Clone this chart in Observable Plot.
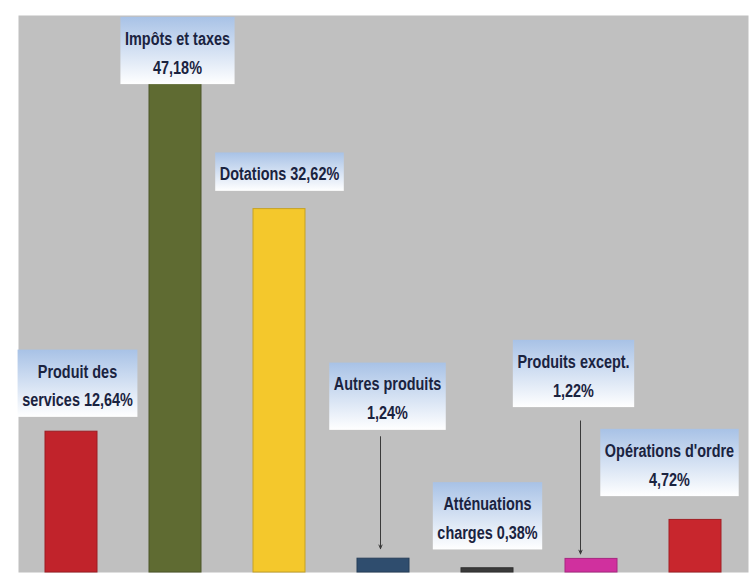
<!DOCTYPE html>
<html><head><meta charset="utf-8">
<script src="https://cdn.jsdelivr.net/npm/d3@7"></script>
<script src="https://cdn.jsdelivr.net/npm/@observablehq/plot@0.6"></script>
<style>body{margin:0;background:#fff}</style>
</head><body><div id="chart"></div>
<script>
// ---- data ----
const categories = ["Produit des services", "Impôts et taxes", "Dotations", "Autres produits", "Atténuations charges", "Produits except.", "Opérations d'ordre"];
const values = [12.64, 47.18, 32.62, 1.24, 0.38, 1.22, 4.72];
const labels = [
  "Produit des\nservices 12,64%",
  "Impôts et taxes\n47,18%",
  "Dotations 32,62%",
  "Autres produits\n1,24%",
  "Atténuations\ncharges 0,38%",
  "Produits except.\n1,22%",
  "Opérations d'ordre\n4,72%"
];
const palette = ["#c1232b", "#5f6b32", "#f4c82c", "#2f4d6e", "#3a3a3a", "#d0309e", "#c8262d"];

// ---- layout (pixel offsets of each label from its bar top) ----
const labelDx = [6, 2, 0, 4, 0, -18, -26];
const labelDy = [-49, 3, -38, -163, -53, -186, -58];
const arrowFor = [3, 5];
const arrowDx = {3: -3, 5: -11};
const arrowStart = {3: 122, 5: 138};
const arrowInset = {3: 10, 5: 5};

const W = 755, H = 576, mT = 15, mB = 4, mL = 18, mR = 7;
const yMax = 50;
const k = (H - mT - mB) / yMax;

const data = categories.map((c, i) => ({cat: c, value: values[i], label: labels[i], color: palette[i]}));

const font = "'Liberation Sans', Arial, sans-serif";
const squeeze = 0.76;

const marks = [
  Plot.frame({fill: "#c0c0c0", stroke: null}),
  Plot.barY(data, {x: "cat", y: "value", fill: "color", stroke: d => d3.color(d.color).darker(0.6).formatHex(), strokeWidth: 1}),
  ...arrowFor.map(i => Plot.arrow([data[i]], {
    x1: "cat", x2: "cat",
    y1: d => d.value + arrowStart[i] / k, y2: "value",
    dx: arrowDx[i], insetEnd: arrowInset[i],
    stroke: "#3a3a3a", strokeWidth: 1, headLength: 6, headAngle: 45
  })),
  ...data.map((d, i) => Plot.text([d], {
    x: "cat", y: "value", text: "label",
    dx: labelDx[i], dy: labelDy[i],
    lineAnchor: "middle", textAnchor: "middle", lineHeight: 1.52,
    fontSize: 19, fontWeight: "bold", fill: "#1a2340", fontFamily: font
  }))
];

const chart = Plot.plot({
  width: W, height: H,
  marginTop: mT, marginBottom: mB, marginLeft: mL, marginRight: mR,
  x: {domain: categories, paddingInner: 0.5, paddingOuter: 0.25, axis: null},
  y: {domain: [0, yMax], axis: null},
  style: {background: "#fff", fontFamily: font},
  marks
});
document.getElementById("chart").appendChild(chart);

// gradient boxes behind labels
const svg = d3.select(chart);
const defs = svg.insert("defs", ":first-child");
const grad = defs.append("linearGradient").attr("id", "lblGrad").attr("x1", 0).attr("y1", 0).attr("x2", 0).attr("y2", 1);
grad.append("stop").attr("offset", "0%").attr("stop-color", "#a8c2e6");
grad.append("stop").attr("offset", "100%").attr("stop-color", "#ffffff");

svg.selectAll('g[aria-label="text"] text').each(function () {
  const t = (this.getAttribute("transform") || "") + ` scale(${squeeze},1)`;
  this.setAttribute("transform", t);
  const b = this.getBBox();
  const padX = 6, padT = 11, padB = 6;
  d3.select(this.parentNode).insert("rect", () => this)
    .attr("transform", t)
    .attr("x", b.x - padX).attr("y", b.y - padT)
    .attr("width", b.width + 2 * padX).attr("height", b.height + padT + padB)
    .attr("fill", "url(#lblGrad)");
});
</script>
</body></html>
